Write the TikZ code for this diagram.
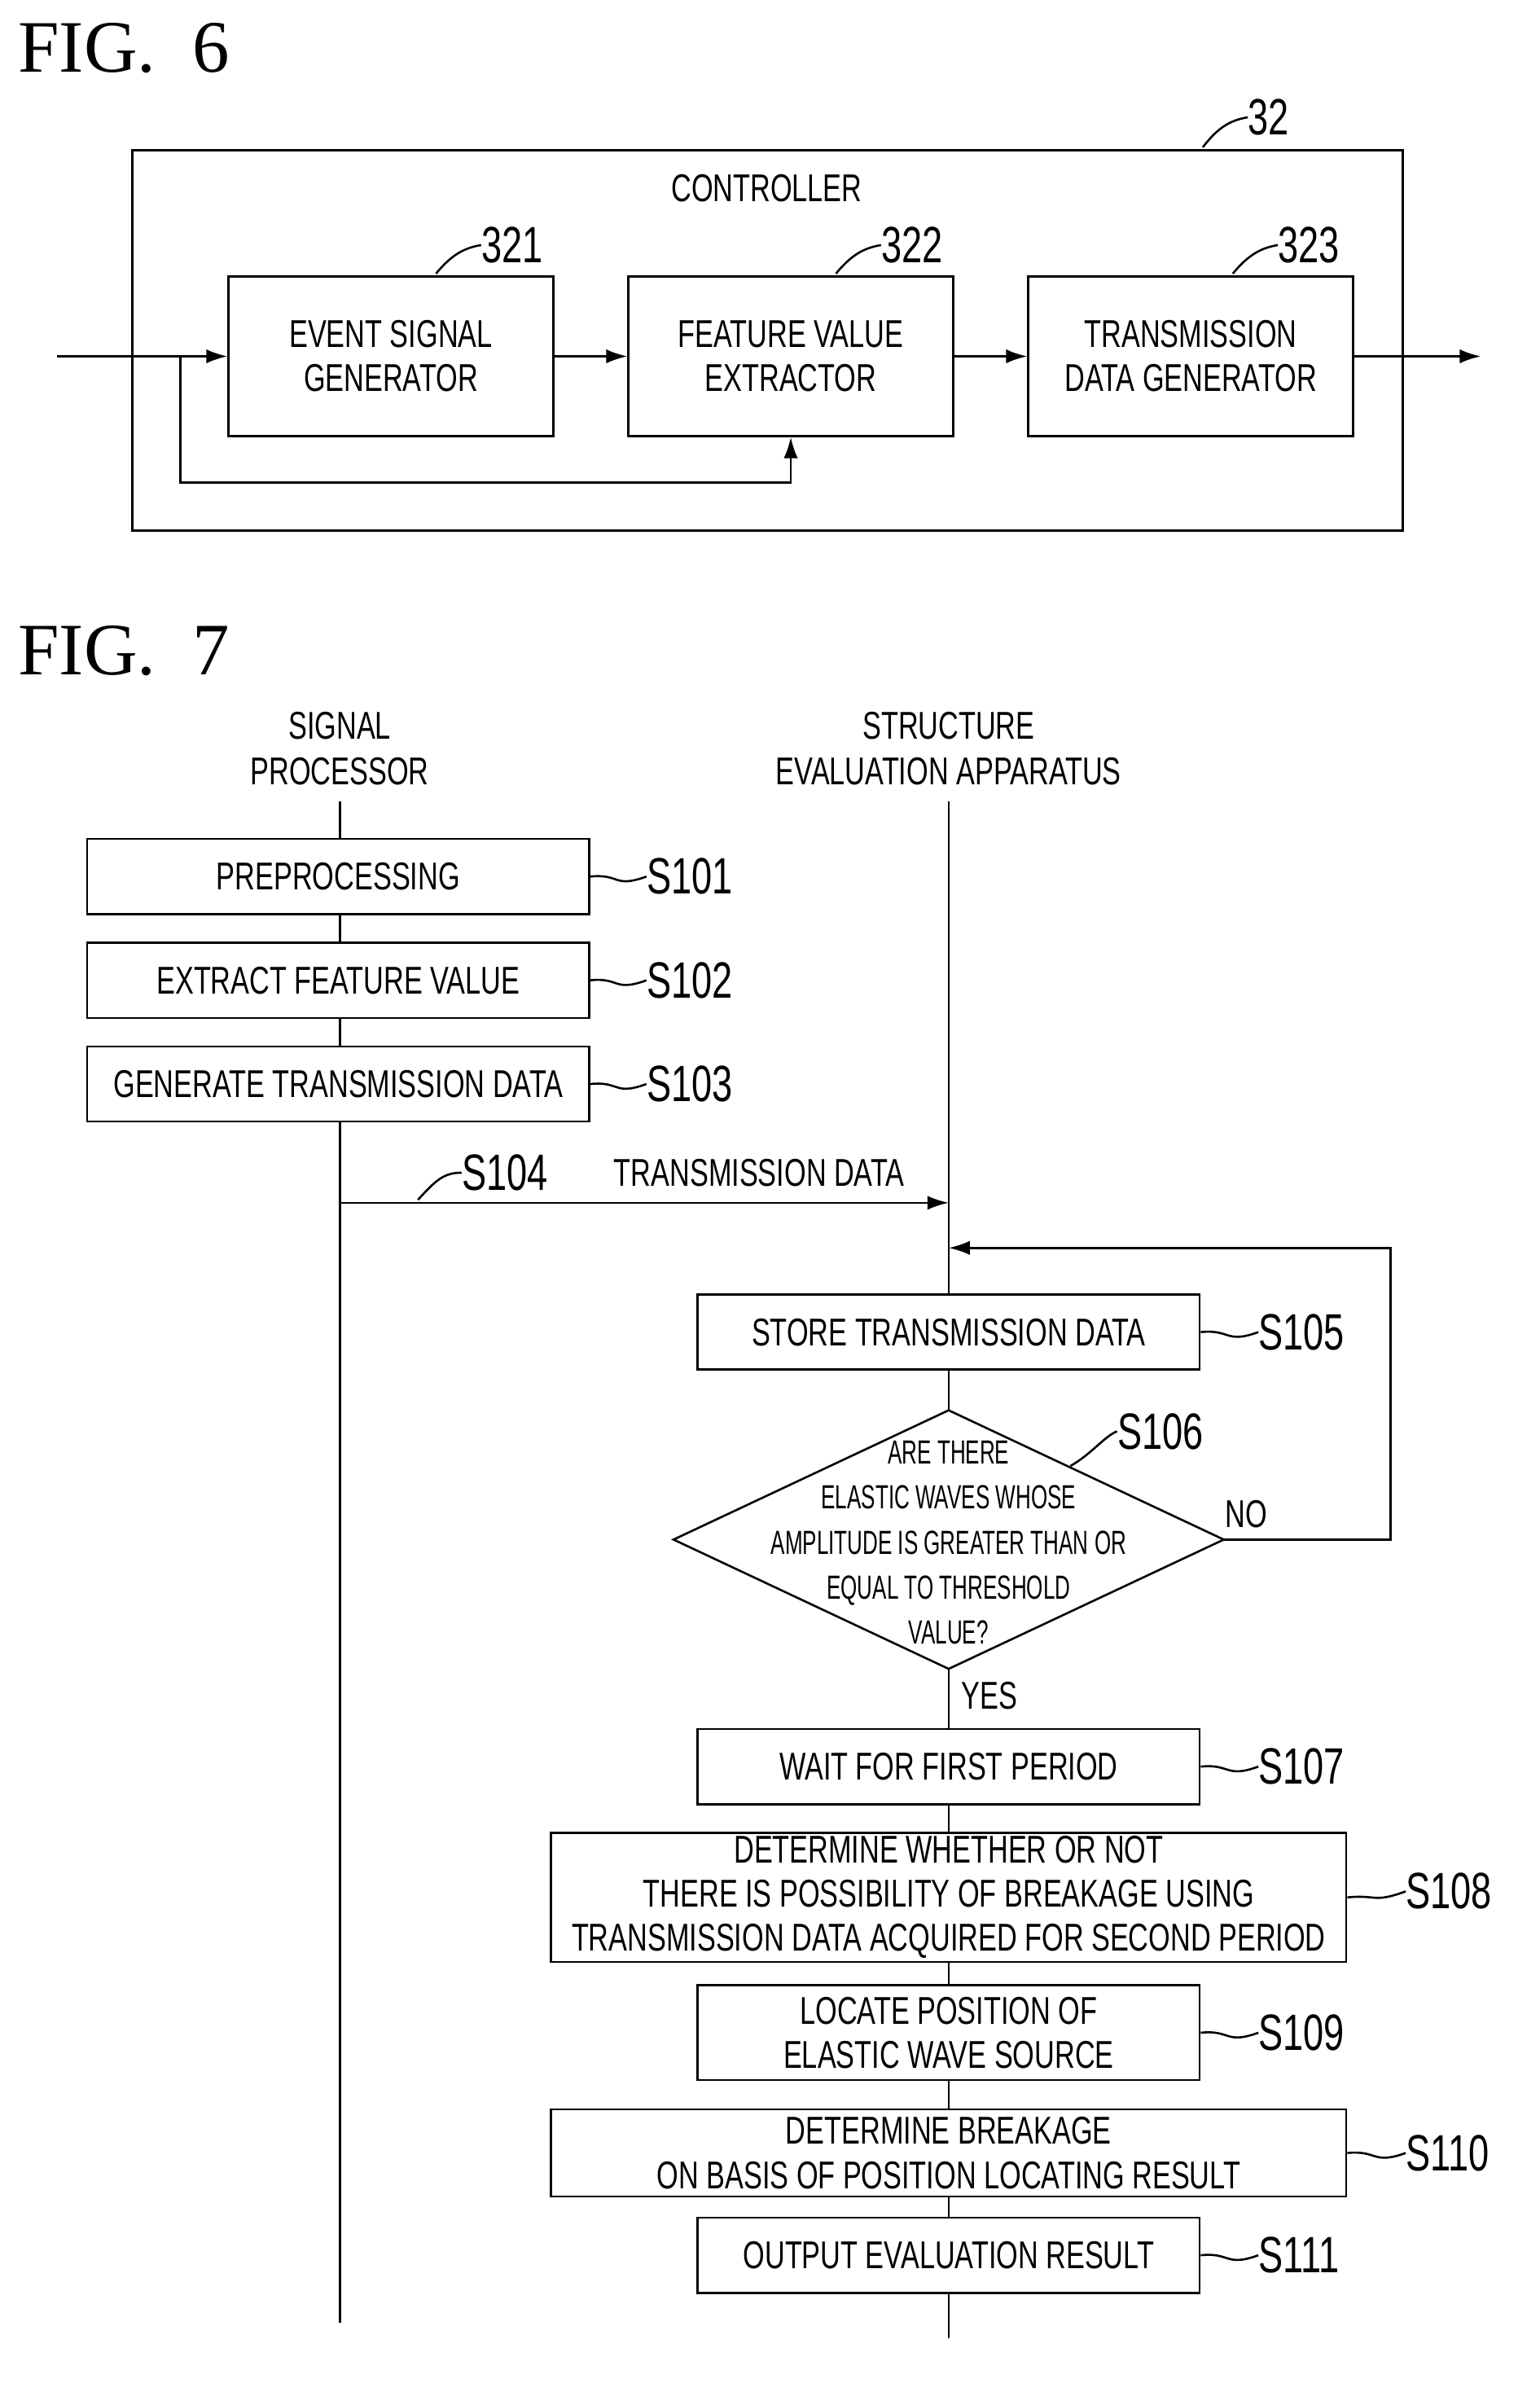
\documentclass[tikz,border=0pt]{standalone}
\usepackage{fontspec}
\setmainfont{Liberation Serif}
\newfontfamily\condfont[FakeStretch=0.72]{Liberation Sans}
\usetikzlibrary{positioning,shapes.geometric,arrows.meta}
\tikzset{
  blk/.style={draw, line width=1.2pt, fill=white, align=center, font=\condfont\fontsize{22}{25}\selectfont, inner sep=0pt},
  lbl/.style={font=\condfont\fontsize{29}{30}\selectfont, anchor=west, inner sep=0pt},
  txt/.style={font=\condfont\fontsize{22}{26}\selectfont, align=center, inner sep=0pt},
  ln/.style={line width=1.2pt},
  arr/.style={ln, -{Latex[length=12pt,width=8pt]}}
}
\newcommand{\leader}[2]{\draw[ln] (#1) .. controls +(20,-2) and +(-22,8) .. (#2);}
\begin{document}
\begin{tikzpicture}[x=0.03cm,y=-0.03cm]
\useasboundingbox (0,0) rectangle (1024,1585);
% FIG 6
\node[anchor=west, font=\fontsize{42}{44}\selectfont] (fig6) at (8,32) {FIG.~~6};
\draw[ln] (88,100) rectangle (933,353);
\node[lbl] (n32) at (830,78) {32};
\draw[ln] (800,98) .. controls (810,85) and (818,80) .. (n32.west);
\node[txt] (ctrl) at (510,125) {CONTROLLER};
\node[blk, minimum width=216*0.03cm, minimum height=106*0.03cm] (esg) at (260,237) {EVENT SIGNAL\\GENERATOR};
\node[blk, minimum width=216*0.03cm, minimum height=106*0.03cm] (fve) at (526,237) {FEATURE VALUE\\EXTRACTOR};
\node[blk, minimum width=216*0.03cm, minimum height=106*0.03cm] (tdg) at (792,237) {TRANSMISSION\\DATA GENERATOR};
\node[lbl] (n321) at (320,163) {321};
\node[lbl] (n322) at (586,163) {322};
\node[lbl] (n323) at (850,163) {323};
\draw[ln] (290,182) .. controls (300,170) and (308,165) .. (n321.west);
\draw[ln] (556,182) .. controls (566,170) and (574,165) .. (n322.west);
\draw[ln] (820,182) .. controls (830,170) and (838,165) .. (n323.west);
\coordinate (in) at (38,237);
\coordinate (out) at (985,237);
\coordinate (fb) at (120,237);
\draw[arr] (in) -- (esg);
\draw[arr] (esg) -- (fve);
\draw[arr] (fve) -- (tdg);
\draw[arr] (tdg) -- (out);
\draw[arr] (fb) |- (526,321) -- (fve.south);
% FIG 7
\node[anchor=west, font=\fontsize{42}{44}\selectfont] (fig7) at (8,433) {FIG.~~7};
\node[txt] (sp) at (226,498) {SIGNAL\\PROCESSOR};
\node[txt] (sea) at (631,498) {STRUCTURE\\EVALUATION APPARATUS};
\coordinate (spend) at (226,1545);
\coordinate (seaend) at (631,1555);
\draw[ln] (226,533) -- (spend);
\draw[ln] (631,533) -- (seaend);
\node[blk, minimum width=334*0.03cm, minimum height=50*0.03cm] (s101) at (225,583) {PREPROCESSING};
\node[blk, minimum width=334*0.03cm, minimum height=50*0.03cm] (s102) at (225,652) {EXTRACT FEATURE VALUE};
\node[blk, minimum width=334*0.03cm, minimum height=50*0.03cm] (s103) at (225,721) {GENERATE TRANSMISSION DATA};
\node[lbl] (l101) at (430,583) {S101};
\node[lbl] (l102) at (430,652) {S102};
\node[lbl] (l103) at (430,721) {S103};
\leader{s101.east}{l101.west}
\leader{s102.east}{l102.west}
\leader{s103.east}{l103.west}
\coordinate (tx) at (226,800);
\draw[arr] (tx) -- (631,800);
\node[lbl] (l104) at (307,780) {S104};
\node[txt] (txd) at (505,780) {TRANSMISSION DATA};
\draw[ln] (278,798) .. controls (290,785) and (295,780) .. (l104.west);
\node[blk, minimum width=334*0.03cm, minimum height=50*0.03cm] (s105) at (631,886) {STORE TRANSMISSION DATA};
\node[lbl] (l105) at (837,886) {S105};
\leader{s105.east}{l105.west}
\draw[ln, fill=white] (448,1024) coordinate (dw) -- (631,938) coordinate (dn) -- (814,1024) coordinate (de) -- (631,1110) coordinate (ds) -- cycle;
\node[txt, font=\condfont\fontsize{19}{25.5}\selectfont, xscale=0.88] (s106) at (631,1026) {ARE THERE\\ELASTIC WAVES WHOSE\\AMPLITUDE IS GREATER THAN OR\\EQUAL TO THRESHOLD\\VALUE?};
\node[lbl] (l106) at (743,952) {S106};
\draw[ln] (712,975) .. controls (725,968) and (735,955) .. (l106.west);
\node[txt] (no) at (829,1007) {NO};
\node[txt] (yes) at (658,1128) {YES};
\draw[arr] (de) -- (925,1024) |- (631,830);
\node[blk, minimum width=334*0.03cm, minimum height=50*0.03cm] (s107) at (631,1175) {WAIT FOR FIRST PERIOD};
\node[lbl] (l107) at (837,1175) {S107};
\leader{s107.east}{l107.west}
\node[blk, minimum width=529*0.03cm, minimum height=86*0.03cm] (s108) at (631,1262) {DETERMINE WHETHER OR NOT\\THERE IS POSSIBILITY OF BREAKAGE USING\\TRANSMISSION DATA ACQUIRED FOR SECOND PERIOD};
\node[lbl] (l108) at (935,1258) {S108};
\leader{s108.east}{l108.west}
\node[blk, minimum width=334*0.03cm, minimum height=63*0.03cm] (s109) at (631,1352) {LOCATE POSITION OF\\ELASTIC WAVE SOURCE};
\node[lbl] (l109) at (837,1352) {S109};
\leader{s109.east}{l109.west}
\node[blk, minimum width=529*0.03cm, minimum height=58*0.03cm] (s110) at (631,1432) {DETERMINE BREAKAGE\\ON BASIS OF POSITION LOCATING RESULT};
\node[lbl] (l110) at (935,1432) {S110};
\leader{s110.east}{l110.west}
\node[blk, minimum width=334*0.03cm, minimum height=50*0.03cm] (s111) at (631,1500) {OUTPUT EVALUATION RESULT};
\node[lbl] (l111) at (837,1500) {S111};
\leader{s111.east}{l111.west}
\end{tikzpicture}
\end{document}
